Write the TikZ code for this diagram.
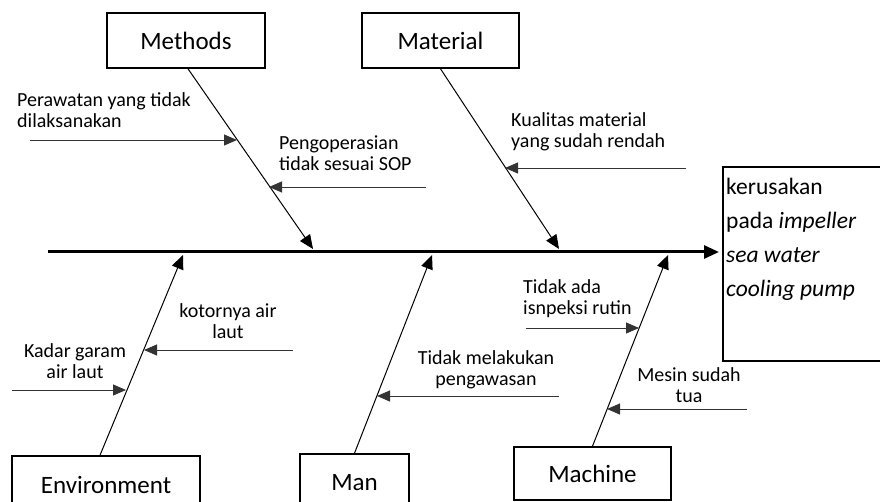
\documentclass[tikz,border=0pt]{standalone}
\usepackage{fontspec}
\setmainfont{Carlito}
\usetikzlibrary{arrows.meta, positioning, calc}

\begin{document}
\begin{tikzpicture}[x=1pt, y=-1pt,
    catbox/.style={draw, rectangle, line width=1.6pt, inner sep=0pt, font=\fontsize{25}{28}\selectfont},
    causetext/.style={inner sep=0pt, font=\fontsize{20}{21}\selectfont},
    bone/.style={line width=1pt, -{Triangle[length=14pt, width=12pt]}},
    subbone/.style={line width=0.9pt, black!80, -{Triangle[length=13pt, width=11pt]}}]
    \clip (0,0) rectangle (880,502);

    % Effect
    \node[catbox, minimum width=177pt, minimum height=194pt] (effect) at (811.5,264) {};
    \node[inner sep=0pt, anchor=base west, align=left, font=\fontsize{23.5}{34}\selectfont] (effecttext) at (726,297)
        {kerusakan\\pada \textit{impeller}\\\textit{sea water}\\\textit{cooling pump}};

    % Spine
    \coordinate (tail) at (48,252);
    \coordinate (head) at (719,252);
    \draw[line width=3pt, -{Triangle[length=15pt, width=13pt]}] (tail) -- (head);

    % Categories
    \node[catbox, minimum width=158pt, minimum height=55pt] (methods) at (186,40.5) {Methods};
    \node[catbox, minimum width=157pt, minimum height=55pt] (material) at (440.5,40.5) {Material};
    \node[catbox, minimum width=188pt, minimum height=58pt] (environment) at (106,485) {Environment};
    \node[catbox, minimum width=109pt, minimum height=58pt] (man) at (354.5,483) {Man};
    \node[catbox, minimum width=157pt, minimum height=53pt] (machine) at (592.5,473.5) {Machine};

    % Bones to the spine
    \coordinate (methodsend) at (313,249);
    \coordinate (materialend) at (559,249);
    \coordinate (environmentend) at (183,255);
    \coordinate (manend) at (432,255);
    \coordinate (machineend) at (668,255);
    \draw[bone] (methods.south) ++(2,0) -- (methodsend);
    \draw[bone] (material.south) -- (materialend);
    \draw[bone] (environment.north) ++(-6,0) -- (environmentend);
    \draw[bone] (man.north) -- (manend);
    \draw[bone] (machine.north) -- (machineend);

    % Methods causes
    \node[causetext, anchor=base west, align=left] (perawatan) at (17,128) {Perawatan yang tidak\\dilaksanakan};
    \node[causetext, anchor=base west, align=left] (pengoperasian) at (279,171) {Pengoperasian\\tidak sesuai SOP};
    \coordinate (perawatanstart) at (30,140);
    \coordinate (perawatanend) at (237,140);
    \coordinate (pengoperasianstart) at (426,187);
    \coordinate (pengoperasianend) at (269,187);
    \draw[subbone] (perawatanstart) -- (perawatanend);
    \draw[subbone] (pengoperasianstart) -- (pengoperasianend);

    % Material causes
    \node[causetext, anchor=base west, align=left] (kualitas) at (511,148) {Kualitas material\\yang sudah rendah};
    \coordinate (kualitasstart) at (686,168);
    \coordinate (kualitasend) at (505,168);
    \draw[subbone] (kualitasstart) -- (kualitasend);

    % Environment causes
    \node[causetext, anchor=base, align=center] (kadar) at (75,378) {Kadar garam\\air laut};
    \node[causetext, anchor=base, align=center] (kotornya) at (228,338) {kotornya air\\laut};
    \coordinate (kadarstart) at (12,390);
    \coordinate (kadarend) at (126,390);
    \coordinate (kotornyastart) at (293,350);
    \coordinate (kotornyaend) at (144,350);
    \draw[subbone] (kadarstart) -- (kadarend);
    \draw[subbone] (kotornyastart) -- (kotornyaend);

    % Man causes
    \node[causetext, anchor=base, align=center] (pengawasan) at (486,385) {Tidak melakukan\\pengawasan};
    \coordinate (pengawasanstart) at (559,396);
    \coordinate (pengawasanend) at (377,396);
    \draw[subbone] (pengawasanstart) -- (pengawasanend);

    % Machine causes
    \node[causetext, anchor=base west, align=left] (inspeksi) at (523,315) {Tidak ada\\isnpeksi rutin};
    \node[causetext, anchor=base, align=center] (mesin) at (689,402) {Mesin sudah\\tua};
    \coordinate (inspeksistart) at (526,328);
    \coordinate (inspeksiend) at (639,328);
    \coordinate (mesinstart) at (747,409);
    \coordinate (mesinend) at (607,409);
    \draw[subbone] (inspeksistart) -- (inspeksiend);
    \draw[subbone] (mesinstart) -- (mesinend);
\end{tikzpicture}
\end{document}
